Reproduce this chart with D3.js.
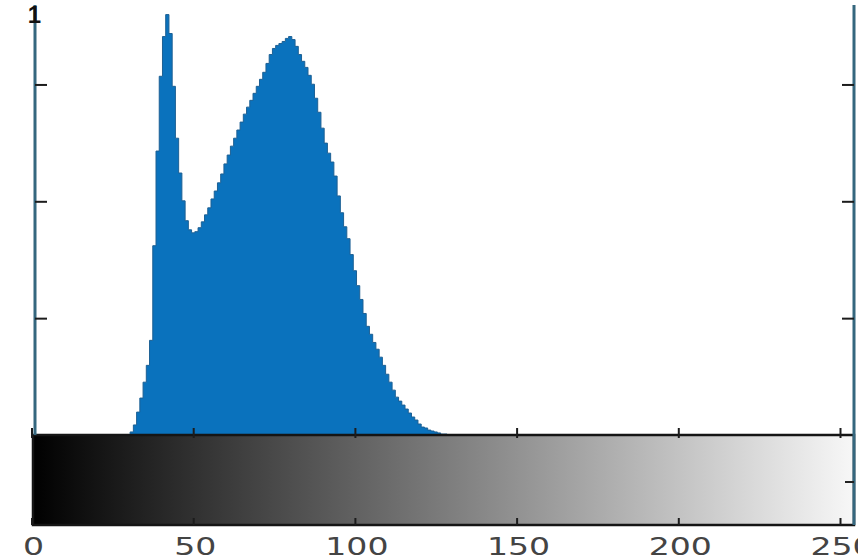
<!DOCTYPE html>
<html>
<head>
<meta charset="utf-8">
<script src="https://cdn.jsdelivr.net/npm/d3@7/dist/d3.min.js"></script>
<style>
  body { margin: 0; background: #fff; }
  svg { display: block; }
</style>
</head>
<body>
<div id="chart-area"></div>
<script>
// histogram counts, one per gray level starting at firstLevel (levels outside are 0)
const firstLevel = 30;
const counts = [
  0, 13, 43, 98, 158, 226, 298, 405, 810, 1215,
  1535, 1705, 1799, 1718, 1492, 1270, 1121, 1002, 917, 878,
  865, 870, 887, 912, 942, 972, 1010, 1044, 1079, 1117,
  1160, 1198, 1236, 1270, 1305, 1339, 1373, 1403, 1432, 1462,
  1492, 1522, 1552, 1590, 1628, 1654, 1667, 1675, 1684, 1697,
  1705, 1692, 1663, 1628, 1599, 1573, 1539, 1501, 1441, 1381,
  1313, 1249, 1206, 1168, 1108, 1023, 951, 891, 840, 772,
  703, 639, 580, 520, 465, 431, 396, 367, 333, 298,
  260, 226, 192, 162, 145, 128, 111, 94, 77, 64,
  47, 34, 30, 21, 17, 13, 9, 4, 4, 0
];
const xTicks = [0, 50, 100, 150, 200, 250];
const yTicks = [500, 1000, 1500];
const topLabel = '1';

const W = 868, H = 560;
const frame = {left: 35, right: 854, top: 5, bottom: 435, barBottom: 525};

const svg = d3.select('#chart-area')
  .append('svg')
  .attr('width', W)
  .attr('height', H);

const x = d3.scaleLinear().domain([0, 250]).range([31.5, 840]);
const y = d3.scaleLinear().domain([0, 1840]).range([frame.bottom, frame.top]);

const data = counts.map((c, i) => ({level: firstLevel + i, count: c}));

const defs = svg.append('defs');

// gradient for the colorbar
const grad = defs.append('linearGradient')
  .attr('id', 'gray')
  .attr('gradientUnits', 'userSpaceOnUse')
  .attr('x1', x(0)).attr('x2', x(255))
  .attr('y1', 0).attr('y2', 0);
grad.append('stop').attr('offset', 0).attr('stop-color', '#000');
grad.append('stop').attr('offset', 1).attr('stop-color', '#f8f8f8');

// the picture is cropped on the right
defs.append('clipPath').attr('id', 'crop')
  .append('rect').attr('x', 0).attr('y', 0).attr('width', 858).attr('height', H);

// histogram as a filled step area
const area = d3.area()
  .x(d => x(d.level))
  .y0(y(0))
  .y1(d => y(d.count))
  .curve(d3.curveStep);
svg.append('path')
  .datum(data)
  .attr('d', area)
  .attr('fill', '#0a72bd');

// darker edge along the top of the bars
const edge = d3.line()
  .x(d => x(d.level))
  .y(d => y(d.count))
  .curve(d3.curveStep);
svg.append('path')
  .datum(data)
  .attr('d', edge)
  .attr('fill', 'none')
  .attr('stroke', '#1d6094')
  .attr('stroke-width', 1);

// colorbar
svg.append('rect')
  .attr('x', 33)
  .attr('y', frame.bottom)
  .attr('width', frame.right - 33)
  .attr('height', frame.barBottom - frame.bottom)
  .attr('fill', 'url(#gray)')
  .attr('stroke', '#151515')
  .attr('stroke-width', 2.5);

// side axis lines
svg.append('line')
  .attr('x1', frame.left).attr('x2', frame.left)
  .attr('y1', frame.top).attr('y2', frame.bottom)
  .attr('stroke', '#35677e').attr('stroke-width', 3);
svg.append('line')
  .attr('x1', frame.right).attr('x2', frame.right)
  .attr('y1', frame.top).attr('y2', frame.barBottom)
  .attr('stroke', '#35677e').attr('stroke-width', 3);

// y ticks, inward on both sides
const leftAxis = d3.axisRight(y).tickValues(yTicks).tickSize(12).tickFormat('');
const rightAxis = d3.axisLeft(y).tickValues(yTicks).tickSize(12).tickFormat('');
svg.append('g').attr('transform', `translate(${frame.left}, 0)`).call(leftAxis);
svg.append('g').attr('transform', `translate(${frame.right}, 0)`).call(rightAxis);

// x ticks on top and bottom of the colorbar
const topAxis = d3.axisTop(x).tickValues(xTicks).tickSize(10).tickFormat('');
const botAxis = d3.axisTop(x).tickValues(xTicks).tickSize(7).tickFormat('');
svg.append('g').attr('transform', `translate(0, ${frame.bottom + 3})`).call(topAxis);
svg.append('g').attr('transform', `translate(0, ${frame.barBottom})`).call(botAxis);

// small tick on colorbar right side
svg.append('line')
  .attr('x1', frame.right - 9).attr('x2', frame.right)
  .attr('y1', 482).attr('y2', 482)
  .attr('stroke', '#222').attr('stroke-width', 2);

svg.selectAll('.domain').remove();
svg.selectAll('.tick line').attr('stroke', '#1c1c1c').attr('stroke-width', 2);

// x tick labels, wide font like the original
svg.append('g')
  .attr('clip-path', 'url(#crop)')
  .selectAll('text')
  .data(xTicks)
  .join('text')
    .attr('transform', d => `translate(${x(d) + 2}, 555) scale(1.38, 1)`)
    .attr('text-anchor', 'middle')
    .attr('font-family', 'DejaVu Sans, sans-serif')
    .attr('font-size', 24)
    .attr('fill', '#444')
    .text(d => d);

// partial label at top left
svg.append('text')
  .attr('x', 41)
  .attr('y', 23)
  .attr('text-anchor', 'end')
  .attr('font-family', 'Liberation Sans, sans-serif')
  .attr('font-weight', 'bold')
  .attr('font-size', 24)
  .attr('fill', '#111')
  .text(topLabel);
</script>
</body>
</html>
